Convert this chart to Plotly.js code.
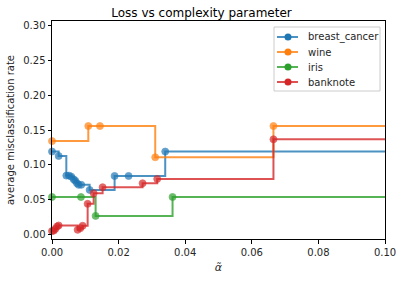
<!DOCTYPE html>
<html><head><meta charset="utf-8">
<script src="https://cdn.plot.ly/plotly-3.0.1.min.js"></script>
<style>html,body{margin:0;padding:0;background:#fff;}#chart{width:403px;height:281px;}</style>
</head><body><div id="chart"></div>
<script>
const seriesNames = ["breast_cancer", "wine", "iris", "banknote"];
const seriesColors = ["#1f77b4", "#ff7f0e", "#2ca02c", "#d62728"];
const lineColors = ["rgba(31,119,180,0.8)", "rgba(255,127,14,0.8)", "rgba(44,160,44,0.8)", "rgba(214,39,40,0.8)"];

const breastAlpha = [0, 0.002, 0.0043, 0.0051, 0.0058, 0.0065, 0.007, 0.0075, 0.008, 0.0088, 0.0113, 0.0188, 0.023, 0.034, 0.2];
const breastRate  = [0.119, 0.1126, 0.0843, 0.0843, 0.0828, 0.079, 0.077, 0.0733, 0.071, 0.071, 0.0637, 0.0838, 0.0838, 0.119, 0.119];

const wineAlpha = [0, 0.0109, 0.0144, 0.031, 0.0665, 0.2];
const wineRate  = [0.134, 0.1557, 0.1557, 0.1107, 0.1557, 0.1557];

const irisAlpha = [0, 0.0087, 0.0131, 0.0362, 0.2];
const irisRate  = [0.0535, 0.0535, 0.0263, 0.0535, 0.0535];

const banknoteAlpha = [0, 0.0005, 0.001, 0.0015, 0.002, 0.0077, 0.0085, 0.0092, 0.0107, 0.0125, 0.0152, 0.0272, 0.0316, 0.0665, 0.2];
const banknoteRate  = [0.0045, 0.005, 0.0075, 0.011, 0.0125, 0.0062, 0.0086, 0.012, 0.0436, 0.059, 0.0676, 0.0733, 0.0795, 0.1366, 0.1366];

const xTicks = [0, 0.02, 0.04, 0.06, 0.08, 0.10];
const yTicks = [0, 0.05, 0.10, 0.15, 0.20, 0.25, 0.30];

const xs = [breastAlpha, wineAlpha, irisAlpha, banknoteAlpha];
const ys = [breastRate, wineRate, irisRate, banknoteRate];

const traces = seriesNames.map((n, i) => ({
  type: "scatter", mode: "lines+markers", name: n,
  x: xs[i], y: ys[i], cliponaxis: false, showlegend: false,
  line: {shape: "hv", color: lineColors[i], width: 2},
  // last point only continues the step off the right edge; no marker there
  marker: {color: seriesColors[i], size: xs[i].map((v, k) => k === xs[i].length - 1 ? 0 : 7)}
}));

const font = {family: "DejaVu Sans, sans-serif", size: 10, color: "#262626"};
const axisCommon = {
  showline: true, mirror: true, linecolor: "#000", linewidth: 1,
  ticks: "outside", ticklen: 3.5, tickwidth: 1, tickcolor: "#000",
  showgrid: false, zeroline: false, tickfont: font
};

// custom legend (pixel geometry converted to paper coords)
const M = {l: 52, r: 18, t: 21, b: 42}, W = 403, H = 281;
const pw = W - M.l - M.r, ph = H - M.t - M.b;
const px = v => (v - M.l) / pw, py = v => (H - M.b - v) / ph;
const shapes = [{type: "rect", xref: "paper", yref: "paper", x0: px(274), x1: px(380), y0: py(91), y1: py(27),
  line: {color: "#cccccc", width: 1}, fillcolor: "rgba(255,255,255,0.8)", layer: "above"}];
const annotations = [];
seriesNames.forEach((n, i) => {
  const yy = 37 + i * 15;
  shapes.push({type: "line", xref: "paper", yref: "paper", x0: px(277), x1: px(298), y0: py(yy), y1: py(yy),
    line: {color: lineColors[i], width: 2}, layer: "above"});
  shapes.push({type: "circle", xref: "paper", yref: "paper", x0: px(284.5), x1: px(291.5), y0: py(yy + 3.5), y1: py(yy - 3.5),
    line: {width: 0}, fillcolor: seriesColors[i], layer: "above"});
  annotations.push({xref: "paper", yref: "paper", x: px(306), y: py(yy), xanchor: "left", yanchor: "middle",
    text: n, showarrow: false, font: font});
});

const layout = {
  width: W, height: H, margin: M,
  paper_bgcolor: "#fff", plot_bgcolor: "#fff",
  font: font,
  title: {text: "Loss vs complexity parameter", font: {family: "DejaVu Sans, sans-serif", size: 12, color: "#000"}, x: 0.5, xanchor: "center", y: 0.955, yanchor: "middle"},
  xaxis: Object.assign({}, axisCommon, {range: [0, 0.1], tickvals: xTicks, tickformat: ".2f",
    title: {text: "<i>α̃</i>", font: {family: "DejaVu Sans, sans-serif", size: 11, color: "#262626"}, standoff: 6}}),
  yaxis: Object.assign({}, axisCommon, {range: [-0.007, 0.307], tickvals: yTicks, tickformat: ".2f",
    title: {text: "average misclassification rate", font: font, standoff: 6}}),
  showlegend: false,
  shapes: shapes,
  annotations: annotations
};
Plotly.newPlot("chart", traces, layout, {displayModeBar: false, staticPlot: true});
</script></body></html>
